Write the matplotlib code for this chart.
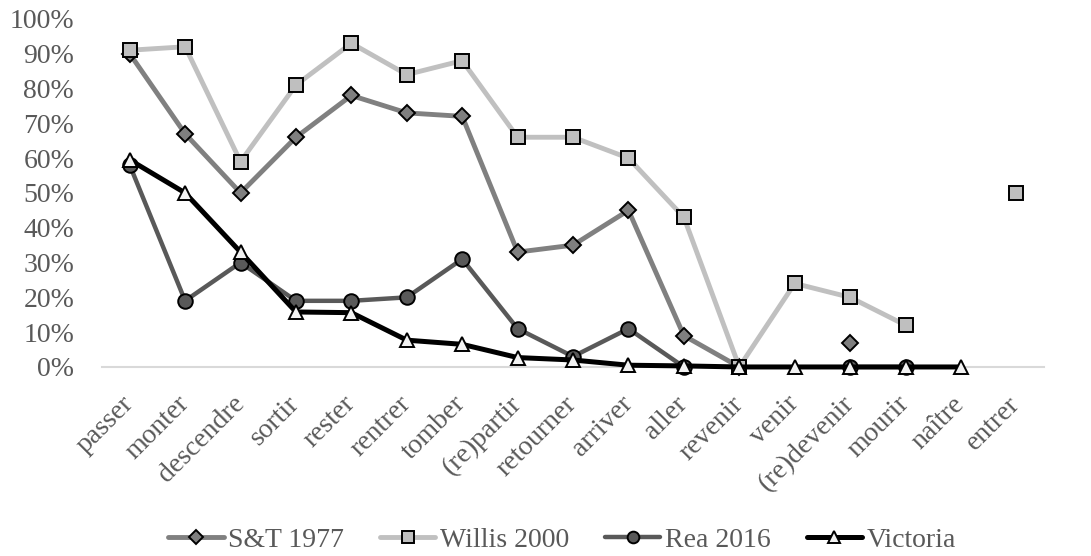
import numpy as np
import matplotlib
matplotlib.use("Agg")
import matplotlib.pyplot as plt
from matplotlib.ticker import FuncFormatter

nan = np.nan
categories = ["passer", "monter", "descendre", "sortir", "rester", "rentrer", "tomber",
              "(re)partir", "retourner", "arriver", "aller", "revenir", "venir",
              "(re)devenir", "mourir", "naître", "entrer"]
st1977 = [90, 67, 50, 66, 78, 73, 72, 33, 35, 45, 9, 0, nan, 7, nan, nan, nan]
willis2000 = [91, 92, 59, 81, 93, 84, 88, 66, 66, 60, 43, 0, 24, 20, 12, nan, 50]
rea2016 = [58, 19, 30, 19, 19, 20, 31, 11, 3, 11, 0, nan, nan, 0, 0, nan, nan]
victoria = [59.5, 50, 33, 15.8, 15.6, 7.7, 6.5, 2.7, 2, 0.5, 0.3, 0, 0, 0, 0, 0, nan]
series_names = ["S&T 1977", "Willis 2000", "Rea 2016", "Victoria"]

plt.rcParams['font.family'] = ['Liberation Serif', 'DejaVu Serif']

fig = plt.figure(figsize=(10.91, 5.56), dpi=100)
ax = fig.add_axes([0.0935, 0.34, 0.8635, 0.626])

x = np.arange(len(categories))
styles = [
    dict(color="#808080", marker="D", ms=8.5, mfc="#7f7f7f", lw=3.5),
    dict(color="#c0c0c0", marker="s", ms=10, mfc="#bfbfbf", lw=3.5),
    dict(color="#595959", marker="o", ms=10.5, mfc="#595959", lw=3.2),
    dict(color="#000000", marker="^", ms=10.5, mfc="#f2f2f2", lw=3.6),
]
for data, name, st in zip([st1977, willis2000, rea2016, victoria], series_names, styles):
    ax.plot(x, np.array(data, dtype=float), label=name, mec="black", mew=1.4,
            solid_capstyle="round", solid_joinstyle="round", clip_on=False, **st)

ax.set_xlim(-0.5, len(categories) - 0.5)
ax.set_ylim(0, 100)
ax.set_yticks(np.arange(0, 101, 10))
ax.yaxis.set_major_formatter(FuncFormatter(lambda v, p: f"{int(v)}%"))
ax.set_xticks(x)
ax.set_xticklabels(categories, rotation=45, ha="right", va="center", rotation_mode="anchor")
for lbl in ax.get_xticklabels():
    lbl.set_x(lbl.get_position()[0])
for s in ["top", "right", "left"]:
    ax.spines[s].set_visible(False)
ax.spines["bottom"].set_color("#d9d9d9")
ax.spines["bottom"].set_linewidth(1.5)
ax.spines["bottom"].set_zorder(0)
ax.tick_params(axis="both", length=0, labelsize=20, labelcolor="#595959")
ax.tick_params(axis="x", pad=24)
ax.tick_params(axis="y", pad=20)

fig.legend(loc="center", bbox_to_anchor=(0.515, 0.028), ncol=4, frameon=False,
           fontsize=20, handlelength=2.0, handletextpad=0.15, columnspacing=1.3,
           markerscale=0.8, labelcolor="#595959")

fig.savefig("out.png", dpi=100)
